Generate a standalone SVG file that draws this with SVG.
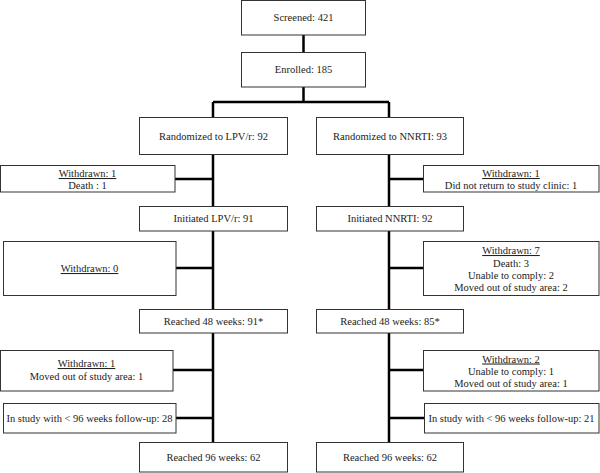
<svg xmlns="http://www.w3.org/2000/svg" width="600" height="473" viewBox="0 0 600 473">
<style>
.box{fill:#fff;stroke:#333;stroke-width:1}
.t{font-family:"Liberation Serif","DejaVu Serif",serif;font-size:10.5px;fill:#222;text-anchor:middle}
.u{text-decoration:underline}
.c{fill:none;stroke:#000;stroke-width:2.5}
</style>
<rect width="600" height="473" fill="#fff"/>
<g id="connectors">
<path class="c" d="M303.5 35V52M303.5 87V102M213 102H389M213 102V117M389 102V117"/>
<path class="c" d="M213 155V442M389 155V442"/>
<path class="c" d="M175 179H213M176 268H213M173 370H213M176 418H213"/>
<path class="c" d="M389 179H423M389 268H423M389 370H423M389 418H424"/>
</g>
<g id="screened"><rect class="box" x="241.5" y="0.5" width="124" height="34.5"/><text class="t" x="303.5" y="21">Screened:  421</text></g>
<g id="enrolled"><rect class="box" x="241.5" y="52.5" width="124" height="34.5"/><text class="t" x="303.5" y="73">Enrolled: 185</text></g>
<g id="rand-lpv"><rect class="box" x="139.5" y="117.5" width="148" height="37"/><text class="t" x="213.5" y="140">Randomized to LPV/r: 92</text></g>
<g id="rand-nnrti"><rect class="box" x="316.5" y="117.5" width="147" height="37"/><text class="t" x="390" y="140">Randomized to NNRTI: 93</text></g>
<g id="wd-lpv-1"><rect class="box" x="0.5" y="165.5" width="174.5" height="26.5"/><text class="t" x="87.5" y="177"><tspan class="u">Withdrawn: 1</tspan></text><text class="t" x="87.5" y="189">Death : 1</text></g>
<g id="wd-nnrti-1"><rect class="box" x="423.5" y="165.5" width="175.5" height="26.5"/><text class="t" x="511" y="177"><tspan class="u">Withdrawn: 1</tspan></text><text class="t" x="511" y="189">Did not return  to study clinic: 1</text></g>
<g id="init-lpv"><rect class="box" x="139.5" y="206.5" width="148" height="24.5"/><text class="t" x="213.5" y="222">Initiated LPV/r: 91</text></g>
<g id="init-nnrti"><rect class="box" x="316.5" y="206.5" width="147" height="24.5"/><text class="t" x="390" y="222">Initiated NNRTI: 92</text></g>
<g id="wd-lpv-0"><rect class="box" x="3.5" y="241.5" width="172.5" height="54"/><text class="t" x="89.5" y="272"><tspan class="u">Withdrawn:  0</tspan></text></g>
<g id="wd-nnrti-7"><rect class="box" x="423.5" y="241.5" width="175.5" height="54"/><text class="t" x="511" y="254"><tspan class="u">Withdrawn:  7</tspan></text><text class="t" x="511" y="266.5">Death: 3</text><text class="t" x="511" y="279">Unable to comply: 2</text><text class="t" x="511" y="291">Moved out of study area: 2</text></g>
<g id="r48-lpv"><rect class="box" x="139.5" y="309.5" width="148" height="23.5"/><text class="t" x="213.5" y="325">Reached 48 weeks: 91*</text></g>
<g id="r48-nnrti"><rect class="box" x="316.5" y="309.5" width="147" height="23.5"/><text class="t" x="390" y="325">Reached 48 weeks: 85*</text></g>
<g id="wd-lpv-2"><rect class="box" x="0.5" y="350.5" width="172.5" height="40.5"/><text class="t" x="86.5" y="367"><tspan class="u">Withdrawn:  1</tspan></text><text class="t" x="86.5" y="380">Moved out of study  area:  1</text></g>
<g id="wd-nnrti-2"><rect class="box" x="423.5" y="350.5" width="175.5" height="40.5"/><text class="t" x="511" y="362.5"><tspan class="u">Withdrawn:  2</tspan></text><text class="t" x="511" y="374.5">Unable to comply: 1</text><text class="t" x="511" y="386.5">Moved out of study area: 1</text></g>
<g id="fu-lpv"><rect class="box" x="3.5" y="403.5" width="172.5" height="29.5"/><text class="t" x="89.5" y="422">In study with &lt; 96 weeks follow-up: 28</text></g>
<g id="fu-nnrti"><rect class="box" x="424.5" y="403.5" width="174.5" height="29.5"/><text class="t" x="511.5" y="422">In study with &lt; 96 weeks follow-up: 21</text></g>
<g id="r96-lpv"><rect class="box" x="139.5" y="442.5" width="148" height="29.5"/><text class="t" x="213.5" y="461">Reached 96 weeks: 62</text></g>
<g id="r96-nnrti"><rect class="box" x="316.5" y="442.5" width="147" height="29.5"/><text class="t" x="390" y="461">Reached 96 weeks: 62</text></g>
</svg>
